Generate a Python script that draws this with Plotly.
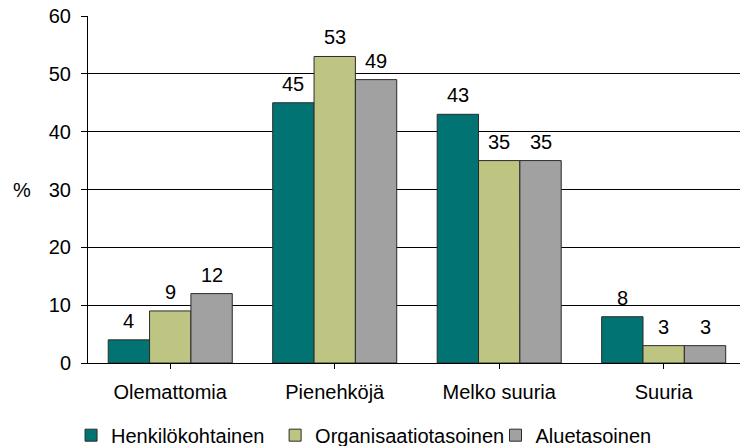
import plotly.graph_objects as go

categories = ["Olemattomia", "Pienehköjä", "Melko suuria", "Suuria"]
henkilokohtainen = [4, 45, 43, 8]
organisaatiotasoinen = [9, 53, 35, 3]
aluetasoinen = [12, 49, 35, 3]

series = [
    ("Henkilökohtainen", henkilokohtainen, "#027373"),
    ("Organisaatiotasoinen", organisaatiotasoinen, "#bec583"),
    ("Aluetasoinen", aluetasoinen, "#a2a1a1"),
]

FONT = "Liberation Sans"
SIZE = 20
BARGAP = 0.246
LEGEND_X = [-0.026, 0.287, 0.625]

fig = go.Figure()
bar_w = (1 - BARGAP) / len(series)
annotations = []
for k, (name, vals, color) in enumerate(series):
    legend_id = "legend" if k == 0 else f"legend{k + 1}"
    fig.add_trace(go.Bar(
        name=name,
        x=list(range(len(categories))),
        y=vals,
        marker=dict(color=color, line=dict(color="#2a2a2a", width=1)),
        legend=legend_id,
    ))
    # value labels above each bar
    offset = (k - (len(series) - 1) / 2) * bar_w
    for i, v in enumerate(vals):
        annotations.append(dict(
            text=str(v), x=i + offset, y=v, xref="x", yref="y",
            xanchor="center", yanchor="bottom", yshift=6, showarrow=False,
            font=dict(family=FONT, size=SIZE, color="black"),
        ))

annotations.append(dict(
    text="%", xref="paper", yref="y", x=-(88 - 11) / 652, y=30,
    xanchor="left", yanchor="middle", showarrow=False,
    font=dict(family=FONT, size=SIZE, color="black"),
))

legend_common = dict(
    orientation="h", xanchor="left", yref="container", y=0.068, yanchor="top",
    font=dict(family=FONT, size=SIZE, color="black"), itemwidth=30,
    bgcolor="rgba(0,0,0,0)",
)
legends = {}
for k, lx in enumerate(LEGEND_X):
    key = "legend" if k == 0 else f"legend{k + 1}"
    legends[key] = dict(legend_common, x=lx)

fig.update_layout(
    width=740,
    height=446,
    margin=dict(l=88, r=0, t=16, b=83, autoexpand=False),
    paper_bgcolor="white",
    plot_bgcolor="white",
    barmode="group",
    bargap=BARGAP,
    bargroupgap=0,
    font=dict(family=FONT, size=SIZE, color="black"),
    showlegend=True,
    xaxis=dict(
        range=[-0.5, 3.464],
        tickmode="array",
        tickvals=list(range(len(categories))),
        ticktext=categories,
        showline=True,
        linecolor="black",
        linewidth=1,
        ticks="outside",
        ticklen=5,
        tickcolor="black",
        showgrid=False,
        ticklabelstandoff=6,
        tickfont=dict(family=FONT, size=SIZE, color="black"),
    ),
    yaxis=dict(
        range=[0, 60],
        dtick=10,
        showline=True,
        linecolor="black",
        linewidth=1,
        ticks="outside",
        ticklen=6,
        tickcolor="black",
        showgrid=True,
        gridcolor="black",
        gridwidth=1,
        zeroline=True,
        zerolinecolor="black",
        zerolinewidth=1,
        ticklabelstandoff=6,
        tickfont=dict(family=FONT, size=SIZE, color="black"),
    ),
    annotations=annotations,
    **legends,
)

fig.write_html("out.html")
